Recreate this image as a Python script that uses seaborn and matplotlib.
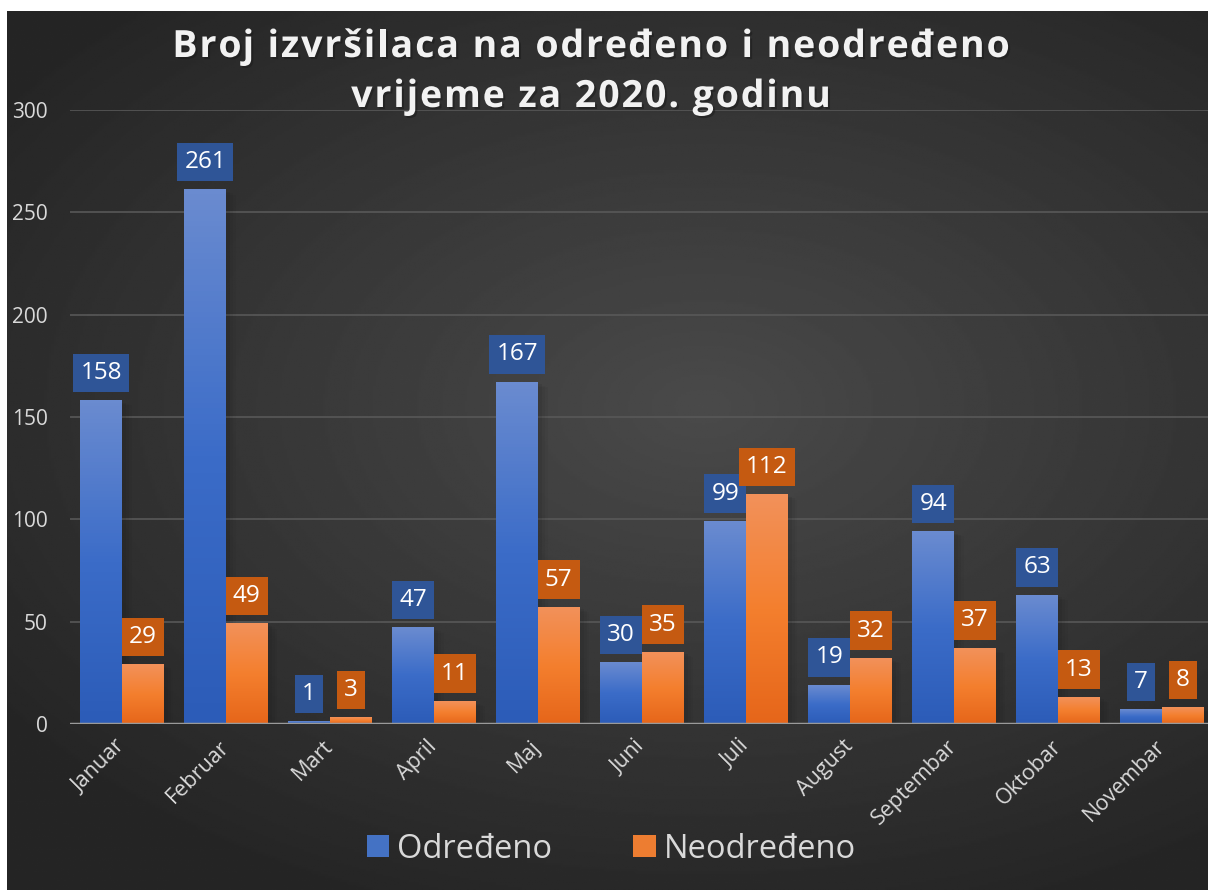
import numpy as np
import pandas as pd
import matplotlib
matplotlib.use("Agg")
import matplotlib.pyplot as plt
import seaborn as sns
from matplotlib import patheffects as pe
from matplotlib.patches import Patch
from matplotlib.colors import LinearSegmentedColormap

# podaci
mjeseci = ['Januar', 'Februar', 'Mart', 'April', 'Maj', 'Juni', 'Juli',
           'August', 'Septembar', 'Oktobar', 'Novembar']
odredjeno = [158, 261, 1, 47, 167, 30, 99, 19, 94, 63, 7]
neodredjeno = [29, 49, 3, 11, 57, 35, 112, 32, 37, 13, 8]
serije = ['Određeno', 'Neodređeno']
naslov = ['Broj izvršilaca na određeno i neodređeno', 'vrijeme za 2020. godinu']

df = pd.DataFrame({
    'Mjesec': mjeseci * 2,
    'Broj': odredjeno + neodredjeno,
    'Tip': [serije[0]] * len(mjeseci) + [serije[1]] * len(mjeseci),
})

sns.set_theme(style="dark")
plt.rcParams['font.family'] = ['Open Sans', 'DejaVu Sans']

W, H = 1208, 890
fig = plt.figure(figsize=(W / 100, H / 100), dpi=100, facecolor='white')

# tamna pozadina s radijalnim prijelazom
bg = fig.add_axes([7 / W, 0, 1 - 7 / W, 1 - 11 / H])
bg.axis('off')
yy, xx = np.mgrid[0:1:400j, 0:1:500j]
r = np.sqrt(((xx - 0.58) / 1.0) ** 2 + ((yy - 0.45) / 0.85) ** 2)
val = 0x4a - (0x4a - 0x25) * np.clip(r / 0.72, 0, 1)
bg.imshow(val, cmap='gray', vmin=0, vmax=255, extent=(0, 1, 0, 1),
          aspect='auto', origin='upper')
bg.set_xlim(0, 1)
bg.set_ylim(0, 1)

ax = fig.add_axes([70 / W, 166 / H, 1144 / W, 614 / H])
ax.patch.set_alpha(0)

sns.barplot(data=df, x='Mjesec', y='Broj', hue='Tip',
            palette=['#4472c4', '#ed7d31'], saturation=1, width=0.8,
            linewidth=0, legend=False, ax=ax)

gradijenti = [
    LinearSegmentedColormap.from_list('b', ['#2c5cb8', '#3b6cc8', '#6a8bd0']),
    LinearSegmentedColormap.from_list('o', ['#e6661a', '#f47f2e', '#f2915a']),
]
kutije = ['#2f5597', '#c55a11']

# meka sjena oko stupaca
sjena_stupca = [pe.SimplePatchShadow(offset=(o, -o / 2), shadow_rgbFace='k', alpha=a)
                for o, a in [(7, 0.05), (5, 0.07), (3, 0.1)]] + [pe.Normal()]

for cont, cmap, kc in zip(ax.containers, gradijenti, kutije):
    for bar in cont:
        x0, w, h = bar.get_x(), bar.get_width(), bar.get_height()
        bar.set_path_effects(sjena_stupca)
        ax.imshow(np.linspace(1, 0, 100).reshape(-1, 1), cmap=cmap, aspect='auto',
                  extent=(x0, x0 + w, 0, h), zorder=bar.get_zorder() + 0.1)
        ax.annotate(f'{int(h)}', (x0 + w / 2, h), xytext=(0, 20),
                    textcoords='offset points', ha='center', va='center',
                    color='white', fontsize=17.5, zorder=6,
                    bbox=dict(boxstyle='square,pad=0.3', fc=kc, ec='none'))

ax.set_xlim(-0.5, len(mjeseci) - 0.5)
ax.set_ylim(0, 300)
ax.set_yticks(range(0, 301, 50))
ax.yaxis.grid(True, color='#585858', lw=1.2)
ax.xaxis.grid(False)
ax.set_axisbelow(True)
ax.axhline(0, color='#9a9a9a', lw=2.5, zorder=4)
for s in ax.spines.values():
    s.set_visible(False)
ax.set_xlabel('')
ax.set_ylabel('')
ax.tick_params(axis='y', length=0, pad=16, labelcolor='#d9d9d9', labelsize=15)
ax.tick_params(axis='x', length=0, pad=14, labelcolor='#d9d9d9', labelsize=15.5)
for lbl in ax.get_xticklabels():
    lbl.set_rotation(45)
    lbl.set_ha('right')
    lbl.set_va('center')
    lbl.set_rotation_mode('anchor')

# naslov s razmakom između slova
renderer = fig.canvas.get_renderer()
stil = dict(fontsize=27, fontweight='bold')
sjena = [pe.withSimplePatchShadow(offset=(1.5, -1.5), shadow_rgbFace='k', alpha=0.5)]


def sirina(s):
    t = fig.text(0, 0, s + '|', **stil)
    b = fig.text(0, 0, '|', **stil)
    wd = t.get_window_extent(renderer).width - b.get_window_extent(renderer).width
    t.remove()
    b.remove()
    return wd


razmak = 1.9
for red, baza in zip(naslov, [57, 107]):
    ukupno = sirina(red) + razmak * (len(red) - 1)
    x_poc = 591 - ukupno / 2
    for i, ch in enumerate(red):
        if ch == ' ':
            continue
        x = x_poc + sirina(red[:i]) + razmak * i
        fig.text(x / W, 1 - baza / H, ch, ha='left', va='baseline', color='#f2f2f2',
                 path_effects=sjena, **stil)

fig.legend(handles=[Patch(fc='#4472c4', ec='none', label=serije[0]),
                    Patch(fc='#ed7d31', ec='none', label=serije[1])],
           loc='center', bbox_to_anchor=(0.506, 0.046), ncol=2, frameon=False,
           fontsize=23.5, labelcolor='#d9d9d9', handlelength=0.68, handleheight=0.68,
           columnspacing=2.5, handletextpad=0.25)

fig.savefig('out.png', dpi=100, facecolor='white')
